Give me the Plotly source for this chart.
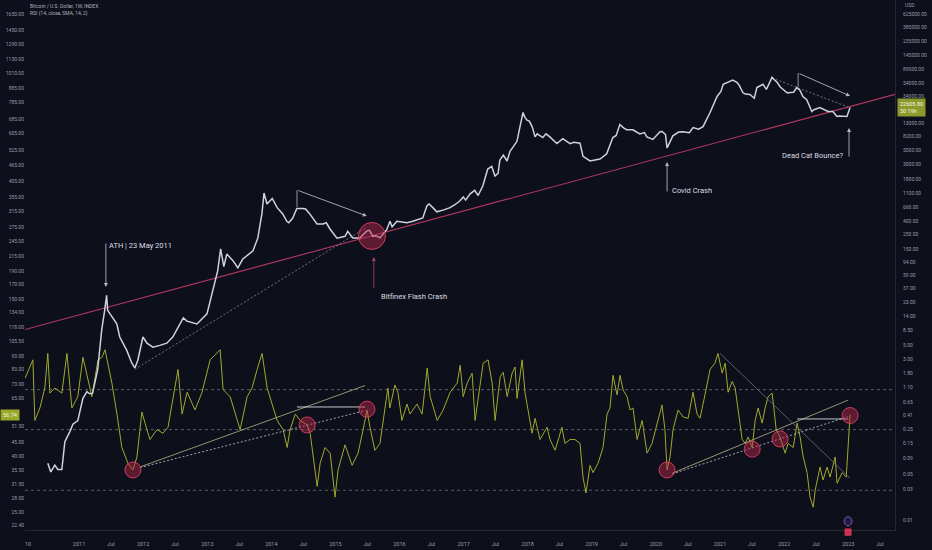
import numpy as np
import plotly.graph_objects as go

# ---------------- data ----------------
price_dates = [
    "2010-07-07", "2010-07-24", "2010-08-16", "2010-09-02", "2010-09-25", "2010-10-12", "2010-10-29", "2010-11-10", "2010-11-27", "2010-12-25",
    "2011-01-23", "2011-02-15", "2011-03-02", "2011-03-19", "2011-04-17", "2011-04-28", "2011-05-10", "2011-05-27", "2011-06-07", "2011-06-13",
    "2011-07-11", "2011-08-04", "2011-08-21", "2011-09-30", "2011-10-29", "2011-11-15", "2011-12-02", "2011-12-31",
    "2012-01-23", "2012-02-26", "2012-04-05", "2012-05-15", "2012-06-18", "2012-07-28", "2012-08-17", "2012-09-07", "2012-11-03", "2012-12-30",
    "2013-02-03", "2013-03-01", "2013-03-18", "2013-04-05", "2013-04-22", "2013-05-26", "2013-06-24", "2013-07-22", "2013-09-18", "2013-10-16",
    "2013-11-08", "2013-11-20", "2013-12-07", "2013-12-24",
    "2014-01-06", "2014-02-03", "2014-02-24", "2014-03-07", "2014-03-30", "2014-04-10", "2014-05-03", "2014-05-26", "2014-06-29", "2014-07-15",
    "2014-08-08", "2014-09-18", "2014-10-22", "2014-11-10", "2014-12-01",
    "2015-01-10", "2015-02-25", "2015-03-12", "2015-04-10", "2015-05-20", "2015-06-29", "2015-07-14", "2015-08-02", "2015-08-20", "2015-09-12",
    "2015-10-21", "2015-11-08", "2015-11-20", "2015-12-17",
    "2016-01-15", "2016-02-13", "2016-03-17", "2016-04-09", "2016-05-13", "2016-06-05", "2016-06-18", "2016-07-09", "2016-08-01", "2016-09-10",
    "2016-10-15", "2016-11-12", "2016-12-11", "2016-12-30",
    "2017-01-12", "2017-02-07", "2017-03-05", "2017-03-24", "2017-04-20", "2017-05-18", "2017-06-10", "2017-06-28", "2017-07-16", "2017-07-26",
    "2017-08-15", "2017-09-05", "2017-09-22", "2017-10-12", "2017-11-01", "2017-11-18", "2017-12-05", "2017-12-16", "2017-12-28",
    "2018-01-10", "2018-01-26", "2018-02-12", "2018-02-24", "2018-03-28", "2018-04-15", "2018-05-07", "2018-06-16", "2018-07-20", "2018-08-30",
    "2018-09-20", "2018-10-26", "2018-11-12", "2018-12-22",
    "2019-02-17", "2019-03-27", "2019-05-01", "2019-05-20", "2019-06-10", "2019-07-01", "2019-07-19", "2019-08-23", "2019-10-02", "2019-10-28",
    "2019-11-11", "2019-12-15",
    "2020-01-25", "2020-02-06", "2020-02-25", "2020-03-05", "2020-04-07", "2020-05-10", "2020-06-03", "2020-07-10", "2020-07-31", "2020-09-01",
    "2020-09-26", "2020-11-05", "2020-12-15",
    "2021-01-06", "2021-01-19", "2021-02-14", "2021-02-28", "2021-03-14", "2021-04-07", "2021-04-20", "2021-05-11", "2021-05-25", "2021-06-20",
    "2021-07-15", "2021-07-30", "2021-09-03", "2021-09-22", "2021-10-24", "2021-11-08", "2021-11-22", "2021-12-10", "2021-12-26",
    "2022-01-20", "2022-02-05", "2022-02-24", "2022-03-14", "2022-04-01", "2022-04-18", "2022-05-10", "2022-06-08", "2022-06-20", "2022-07-24",
    "2022-08-14", "2022-09-08", "2022-10-06", "2022-10-29", "2022-11-10", "2022-12-25",
    "2023-01-12",
]
price_close = [
    0.075, 0.055, 0.07, 0.06, 0.06, 0.16, 0.2, 0.23, 0.30, 0.34,
    0.75, 0.95, 0.88, 0.9, 2.05, 4.1, 8.4, 17, 29, 17,
    13, 10.5, 6.6, 4.1, 2.6, 2.2, 2.9, 6.6,
    5.3, 4.6, 4.9, 5.3, 6.6, 10.5, 13, 11.6, 10.5, 15,
    34, 69, 150, 80, 125, 100, 77, 105, 140, 222,
    520, 1090, 740, 830,
    900, 650, 560, 520, 400, 380, 450, 630, 630, 620,
    520, 365, 365, 380, 305,
    220, 235, 280, 222, 222, 285, 290, 235, 240, 222,
    300, 400, 330, 400,
    390, 380, 400, 420, 450, 690, 740, 650, 560, 600,
    650, 720, 830, 950,
    850, 1060, 1200, 1000, 1400, 2550, 2800, 2000, 2200, 3500,
    4200, 3400, 4800, 5700, 6900, 11500, 19000, 16000, 14500,
    14000, 11500, 8000, 8900, 7800, 8900, 8000, 6300, 7500, 6300,
    6600, 6400, 4000, 3400,
    3650, 4400, 7800, 8400, 12400, 11000, 10300, 10300, 8900, 9300,
    8000, 7300,
    9600, 9700, 8700, 5400, 8300, 9500, 9600, 9300, 11100, 10500,
    11500, 19000, 33500,
    40000, 51800, 56000, 57600, 60000, 55500, 50000, 38500, 36500, 36000,
    31500, 46000, 51800, 43000, 66000, 60000, 55500, 47000, 42800,
    38000, 38500, 39000, 46000, 42000, 33500, 30000, 19700, 21000, 22600,
    21500, 19700, 19700, 16500, 16800, 16500,
    22605.8,
]

rsi_dates = [
    "2010-02-27", "2010-04-13", "2010-04-24", "2010-05-23", "2010-06-20", "2010-07-07", "2010-07-19", "2010-08-16", "2010-09-25", "2010-10-24",
    "2010-11-21", "2010-12-25",
    "2011-01-23", "2011-02-21", "2011-03-15", "2011-04-19", "2011-05-12", "2011-05-29", "2011-07-07", "2011-08-05", "2011-09-02", "2011-10-06",
    "2011-11-04", "2011-11-27", "2011-12-25",
    "2012-01-23", "2012-02-09", "2012-03-20", "2012-04-23", "2012-05-22", "2012-06-19", "2012-07-18", "2012-08-10", "2012-09-08", "2012-10-23",
    "2012-12-02",
    "2013-01-17", "2013-03-15", "2013-04-01", "2013-05-11", "2013-06-25", "2013-07-07", "2013-08-16", "2013-09-13", "2013-10-12", "2013-11-09",
    "2013-12-08",
    "2014-01-05", "2014-02-03", "2014-03-09", "2014-04-01", "2014-04-18", "2014-05-17", "2014-06-14", "2014-07-24", "2014-08-10", "2014-08-27",
    "2014-09-19", "2014-10-06", "2014-11-03", "2014-12-02", "2014-12-30",
    "2015-01-16", "2015-02-25", "2015-04-06", "2015-05-10", "2015-06-08", "2015-06-30", "2015-07-17", "2015-08-14", "2015-09-12", "2015-10-10",
    "2015-10-27", "2015-11-07", "2015-12-06", "2015-12-23",
    "2016-01-15", "2016-02-13", "2016-03-01", "2016-04-10", "2016-05-09", "2016-06-07", "2016-06-24", "2016-08-03", "2016-09-06", "2016-10-16",
    "2016-11-25", "2016-12-12", "2016-12-29",
    "2017-01-21", "2017-02-18", "2017-03-07", "2017-03-24", "2017-04-22", "2017-05-20", "2017-06-12", "2017-06-29", "2017-07-28", "2017-08-14",
    "2017-09-06", "2017-10-04", "2017-10-21", "2017-11-01", "2017-11-30", "2017-12-17",
    "2018-01-03", "2018-01-26", "2018-02-12", "2018-03-12", "2018-04-21", "2018-05-08", "2018-06-06", "2018-07-15", "2018-08-01", "2018-08-30",
    "2018-09-27", "2018-10-26", "2018-11-12", "2018-11-29", "2018-12-22",
    "2019-01-08", "2019-02-06", "2019-03-06", "2019-03-29", "2019-04-15", "2019-05-02", "2019-05-25", "2019-06-11", "2019-06-28", "2019-07-21",
    "2019-08-07", "2019-08-24", "2019-09-16", "2019-10-15", "2019-11-12", "2019-12-10",
    "2020-01-08", "2020-02-05", "2020-02-22", "2020-03-05", "2020-03-22", "2020-04-08", "2020-05-07", "2020-06-05", "2020-07-03", "2020-07-31",
    "2020-08-23", "2020-09-09", "2020-10-07", "2020-11-05", "2020-12-03", "2020-12-20",
    "2021-01-13", "2021-01-30", "2021-02-16", "2021-03-11", "2021-03-28", "2021-04-14", "2021-05-07", "2021-05-24", "2021-06-10", "2021-07-03",
    "2021-07-20", "2021-08-06", "2021-08-29", "2021-09-15", "2021-10-02", "2021-10-25", "2021-11-17", "2021-12-09",
    "2022-01-07", "2022-01-24", "2022-02-22", "2022-03-16", "2022-04-02", "2022-04-20", "2022-05-12", "2022-05-29", "2022-06-16", "2022-06-27",
    "2022-07-25", "2022-08-11", "2022-09-03", "2022-09-20", "2022-10-19", "2022-10-30", "2022-11-28", "2022-12-21",
    "2023-01-12",
]
rsi_values = [
    77, 90, 54, 60, 71, 95, 68, 71, 68, 95,
    60, 66,
    92, 75, 66, 90, 92, 98, 74, 57, 43, 37.7,
    35.6, 39.7, 58,
    50, 46, 50, 48.5, 51, 66, 83, 57, 68.5, 59,
    68.5,
    90, 98, 70, 66, 53, 50, 66, 71, 83, 95,
    71,
    62, 54, 50, 43, 50, 57, 54, 52, 48.5, 40,
    31, 37.7, 43, 41, 28.3,
    35.6, 44, 37, 41, 50, 59, 51, 42, 44.5, 59,
    71, 60, 72.8, 68.5,
    54, 62, 57, 62, 57, 84, 66, 54, 59, 68.5,
    74, 86, 66,
    74, 80.5, 54, 64, 87.5, 90, 74, 54, 78, 81,
    66, 80.5, 84.7, 65, 90, 68,
    59, 48.5, 55, 46, 51, 46, 42, 51, 44.5, 46,
    46, 44.5, 33.5, 29.3, 37,
    34.8, 37.7, 43, 57, 60, 79, 67, 79, 70, 66,
    59, 60, 46, 54, 41, 44.5,
    52.8, 61.5, 50, 35.6, 39.7, 50, 59, 55.6, 55, 68.5,
    57, 55, 67, 83, 87.5, 95,
    80.5, 87.5, 68.5, 75, 71, 59, 46, 44.5, 47, 43,
    54, 60, 52.8, 60, 66, 68, 50, 47,
    41, 44.5, 43, 52.8, 47, 39.7, 34.8, 28.3, 26, 30,
    36.5, 32.7, 36.5, 33.5, 39.7, 31.8, 34.8, 33.5,
    56.74,
]
assert len(price_dates) == len(price_close)
assert len(rsi_dates) == len(rsi_values)

rsi_levels = [70, 50, 30]
left_ticks = [1850, 1650, 1450, 1290, 1130, 1010, 885, 785, 685, 605, 525, 465, 405, 355, 315, 275, 245, 215,
              190, 170, 150, 134, 118, 105.5, 93, 83, 73, 65, 51.5, 45, 40, 35.5, 31.5, 28, 25, 22.4]
right_ticks = [625000, 385000, 235000, 145000, 89000, 54000, 34000, 13000, 8200, 5000, 3000, 1800, 1100, 660, 400,
               250, 150, 94, 59, 37, 23, 14, 8.5, 5, 3, 1.8, 1.1, 0.65, 0.41, 0.25, 0.15, 0.09, 0.05, 0.03, 0.01]
x_tick_dates = ["2010-03-16"] + [f"{y}-{m}-01" for y in range(2011, 2024) for m in ("01", "07")]
x_tick_text = ["10"] + [t for y in range(2011, 2024) for t in (str(y), "Jul")]

# highlighted points (circles)
rsi_circle_dates = ["2011-11-04", "2014-07-24", "2015-06-30", "2020-03-05", "2021-07-03", "2021-12-09", "2023-01-12"]
rsi_circle_values = [35.6, 52, 59.4, 35.6, 42.4, 46.2, 56.3]
price_circle_dates = ["2015-07-28"]
price_circle_values = [238]

# trend-line drawings (date, value pairs)
red_trend_dates = ["2010-02-27", "2023-09-25"]
red_trend_prices = [8.6, 36150]
support_dash_dates = ["2011-11-15", "2015-06-19"]
support_dash_prices = [2.1, 312]
top_dash_dates = ["2021-10-24", "2023-01-01"]
top_dash_prices = [64600, 23080]
rsi_solid1_dates = ["2011-12-14", "2015-06-19"]
rsi_solid1_values = [36.5, 72.5]
rsi_dash1_dates = ["2011-12-14", "2015-06-19"]
rsi_dash1_values = [36.3, 58.7]
rsi_flat1_dates = ["2014-05-27", "2015-06-19"]
rsi_flat1_values = [60.5, 60.5]
rsi_solid2_dates = ["2020-04-03", "2023-01-01"]
rsi_solid2_values = [34.6, 64.1]
rsi_dash2_dates = ["2020-04-03", "2023-01-01"]
rsi_dash2_values = [34.4, 55.8]
rsi_flat2_dates = ["2022-03-16", "2023-01-01"]
rsi_flat2_values = [54.7, 54.7]
rsi_down_dates = ["2021-01-01", "2023-01-12"]
rsi_down_values = [95.0, 33.2]
tick1_dates = ["2014-05-27", "2014-05-27"]
tick1_prices = [1215, 664]
tick2_dates = ["2022-03-22", "2022-03-22"]
tick2_prices = [77100, 46950]

X_RANGE = ["2010-02-27", "2023-09-25"]
BG = "#0d0f1b"
TXT = "#9a9da8"
FONT = "Roboto"

fig = go.Figure()


def seg(xs, ys, axis, color, width=1, dash=None):
    fig.add_trace(go.Scatter(x=xs, y=ys, yaxis=axis, mode="lines", hoverinfo="skip", showlegend=False,
                             line=dict(color=color, width=width, dash=dash)))


# RSI guide levels
for lvl in rsi_levels:
    seg(X_RANGE, [lvl, lvl], "y", "#5a5d6a", 1, "3px,3px")

# RSI line
fig.add_trace(go.Scatter(x=rsi_dates, y=rsi_values, yaxis="y", mode="lines", hoverinfo="skip", showlegend=False,
                         line=dict(color="#a2a92c", width=1)))

# RSI drawings
seg(rsi_solid1_dates, rsi_solid1_values, "y", "#b8b58a", 0.8)
seg(rsi_dash1_dates, rsi_dash1_values, "y", "#c8cad2", 0.8, "2px,2px")
seg(rsi_flat1_dates, rsi_flat1_values, "y", "#d8dae0", 0.9)
seg(rsi_solid2_dates, rsi_solid2_values, "y", "#b8b58a", 0.8)
seg(rsi_dash2_dates, rsi_dash2_values, "y", "#c8cad2", 0.8, "2px,2px")
seg(rsi_flat2_dates, rsi_flat2_values, "y", "#d8dae0", 0.9)
seg(rsi_down_dates, rsi_down_values, "y", "#6e7080", 0.8)

fig.add_trace(go.Scatter(x=rsi_circle_dates, y=rsi_circle_values, yaxis="y", mode="markers", hoverinfo="skip",
                         showlegend=False,
                         marker=dict(size=16, color="rgba(190,40,75,0.45)",
                                     line=dict(color="rgba(215,65,100,0.9)", width=1))))

# price drawings
seg(red_trend_dates, red_trend_prices, "y2", "#b0395c", 1.1)
seg(support_dash_dates, support_dash_prices, "y2", "#8a8c96", 0.8, "2px,2px")
seg(top_dash_dates, top_dash_prices, "y2", "#8a8c96", 0.8, "2px,2px")
seg(tick1_dates, tick1_prices, "y2", "#b2b5be", 0.8)
seg(tick2_dates, tick2_prices, "y2", "#b2b5be", 0.8)

# price line (weekly candles shown as a close line)
fig.add_trace(go.Scatter(x=price_dates, y=price_close, yaxis="y2", mode="lines", hoverinfo="skip", showlegend=False,
                         line=dict(color="#cfd2dc", width=1.5)))

fig.add_trace(go.Scatter(x=price_circle_dates, y=price_circle_values, yaxis="y2", mode="markers", hoverinfo="skip",
                         showlegend=False,
                         marker=dict(size=27, color="rgba(190,40,75,0.45)",
                                     line=dict(color="rgba(215,65,100,0.9)", width=1))))

L = np.log10
ann = []


def arrow(xd, yv, ax, ay, color="#b2b5be"):
    ann.append(dict(x=xd, y=L(yv), xref="x", yref="y2", ax=ax, ay=ay, showarrow=True, text="",
                    arrowhead=2, arrowsize=0.9, arrowwidth=0.9, arrowcolor=color))


def label(xd, yv, text, anchor="left", size=7.5):
    ann.append(dict(x=xd, y=L(yv), xref="x", yref="y2", text=text, showarrow=False, xanchor=anchor,
                    yanchor="middle", font=dict(family=FONT, size=size, color="#dcdee5")))


arrow("2011-06-03", 39, 0, -45)
label("2011-06-12", 172, "ATH | 23 May 2011")
arrow("2015-06-29", 483, -70, -26)
arrow("2015-08-08", 113, 0, 33, "#a5405e")
label("2015-09-06", 27.3, "Bitfinex Flash Crash")
arrow("2020-03-05", 3280, 0, 31)
label("2020-03-22", 1215, "Covid Crash")
arrow("2023-01-06", 10960, 0, 30)
label("2022-12-14", 4200, "Dead Cat Bounce?", anchor="right")
arrow("2023-01-12", 34100, -52, -23)

# header texts
ann.append(dict(x=0.004, y=0.989, xref="paper", yref="paper", text="Bitcoin / U.S. Dollar, 1W, INDEX",
                showarrow=False, xanchor="left", yanchor="middle", font=dict(family=FONT, size=5, color="#b2b5be")))
ann.append(dict(x=0.004, y=0.974, xref="paper", yref="paper", text="RSI (14, close, SMA, 14, 2)",
                showarrow=False, xanchor="left", yanchor="middle", font=dict(family=FONT, size=5, color="#b2b5be")))
ann.append(dict(x=1.009, y=0.991, xref="paper", yref="paper", text="USD",
                showarrow=False, xanchor="left", yanchor="middle", font=dict(family=FONT, size=5, color=TXT)))
# last-value labels
ann.append(dict(x=1.002, y=L(price_close[-1]), xref="paper", yref="y2",
                text=f"{price_close[-1]:.2f}<br>50 19h", showarrow=False, xanchor="left", yanchor="middle",
                align="left", bgcolor="#8c9a2c", borderpad=2,
                font=dict(family=FONT, size=5.5, color="#f2f5e0")))
ann.append(dict(x=-0.0287, y=L(rsi_values[-1]), xref="paper", yref="y",
                text=f"{rsi_values[-1]:.2f}", showarrow=False, xanchor="left", yanchor="middle",
                bgcolor="#9aa82a", borderpad=2, font=dict(family=FONT, size=5.5, color="#f2f5e0")))

# small event badges on the time axis
shapes = [
    dict(type="circle", xref="paper", yref="paper", x0=0.9415, x1=0.9505, y0=0.008, y1=0.025,
         line=dict(color="#7e57c2", width=1), fillcolor="#231a3d"),
    dict(type="rect", xref="paper", yref="paper", x0=0.9425, x1=0.9495, y0=-0.010, y1=0.002,
         line=dict(color="#c8344f", width=1), fillcolor="#c8344f"),
]

fig.update_layout(
    width=932, height=550,
    margin=dict(l=25, r=37, t=0, b=20),
    paper_bgcolor=BG, plot_bgcolor=BG,
    template="none",
    showlegend=False,
    font=dict(family=FONT, size=5, color=TXT),
    annotations=ann,
    shapes=shapes,
    xaxis=dict(type="date", range=X_RANGE, tickvals=x_tick_dates, ticktext=x_tick_text,
               showgrid=False, zeroline=False, showline=True, linecolor="#242734", linewidth=1,
               ticks="", ticklabelstandoff=8, tickfont=dict(family=FONT, size=5.5, color=TXT), automargin=False),
    yaxis=dict(type="log", range=[1.3317, 3.2707], tickvals=left_ticks,
               ticktext=[f"{v:.2f}" for v in left_ticks], side="left",
               showgrid=False, zeroline=False, showline=False, ticks="",
               tickfont=dict(family=FONT, size=5, color=TXT), automargin=False),
    yaxis2=dict(type="log", range=[-2.154, 6.012], tickvals=right_ticks,
                ticktext=[f"{v:.2f}" for v in right_ticks], side="right", overlaying="y",
                showgrid=False, zeroline=False, showline=True, linecolor="#242734", linewidth=1,
                ticks="", ticklabelstandoff=6,
                tickfont=dict(family=FONT, size=5, color=TXT), automargin=False),
)

fig.write_html(
    "out.html",
    config={"displayModeBar": False},
    post_script="document.body.style.margin='0';document.body.style.background='" + BG + "';",
)
